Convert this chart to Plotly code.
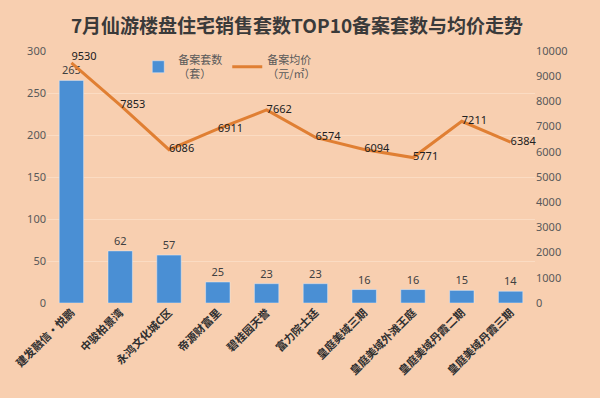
import plotly.graph_objects as go

categories = ["建发融信·悦鹏", "中骏柏景湾", "永鸿文化城C区", "帝源财富里", "碧桂园天誉",
              "富力院士廷", "皇庭美域三期", "皇庭美域外滩王庭", "皇庭美域丹霞二期", "皇庭美域丹霞三期"]
units = [265, 62, 57, 25, 23, 23, 16, 16, 15, 14]
prices = [9530, 7853, 6086, 6911, 7662, 6574, 6094, 5771, 7211, 6384]
price_text_pos = ["top right"] + ["middle right"] * 9

bg = "#f8cfb0"
fig = go.Figure()
fig.add_trace(go.Bar(
    x=categories, y=units, name="备案套数<br>（套）",
    marker=dict(color="#4a8fd4"), width=0.5,
    text=[str(v) for v in units], textposition="outside",
    textfont=dict(size=11, color="#404040", family="Noto Sans"),
    cliponaxis=False,
))
fig.add_trace(go.Scatter(
    x=categories, y=prices, name="备案均价<br>（元/㎡）", yaxis="y2",
    mode="lines+text", line=dict(color="#e07f33", width=3),
    text=[str(v) for v in prices], textposition=price_text_pos,
    textfont=dict(size=11, color="#202020", family="Noto Sans"),
    cliponaxis=False,
))
fig.update_layout(
    width=600, height=398,
    paper_bgcolor=bg, plot_bgcolor=bg,
    margin=dict(l=40, r=65, t=51, b=95),
    title=dict(text="<b>7月仙游楼盘住宅销售套数TOP10备案套数与均价走势</b>",
               x=0.495, xanchor="center", y=0.935, yanchor="middle",
               font=dict(size=19, color="#3a3a3a", family="Noto Sans CJK SC")),
    showlegend=True,
    legend=dict(orientation="h", x=0.187, y=1.02, xanchor="left", yanchor="top",
                bgcolor="rgba(0,0,0,0)",
                font=dict(size=11, color="#595959", family="Noto Sans CJK SC"),
                itemwidth=30),
    xaxis=dict(tickangle=-45, showline=False, ticks="",
               tickfont=dict(size=11, color="#303030", family="Noto Sans CJK SC", weight="bold")),
    yaxis=dict(range=[0, 300], dtick=50, showgrid=True, gridcolor="#fbdcc3",
               zeroline=False, ticks="",
               tickfont=dict(size=11, color="#595959", family="Noto Sans")),
    yaxis2=dict(range=[0, 10000], dtick=1000, tickformat="d", overlaying="y", side="right",
                showgrid=False, zeroline=False, ticks="",
                tickfont=dict(size=11, color="#595959", family="Noto Sans")),
    bargap=0.5,
)
fig.write_html("out.html")
